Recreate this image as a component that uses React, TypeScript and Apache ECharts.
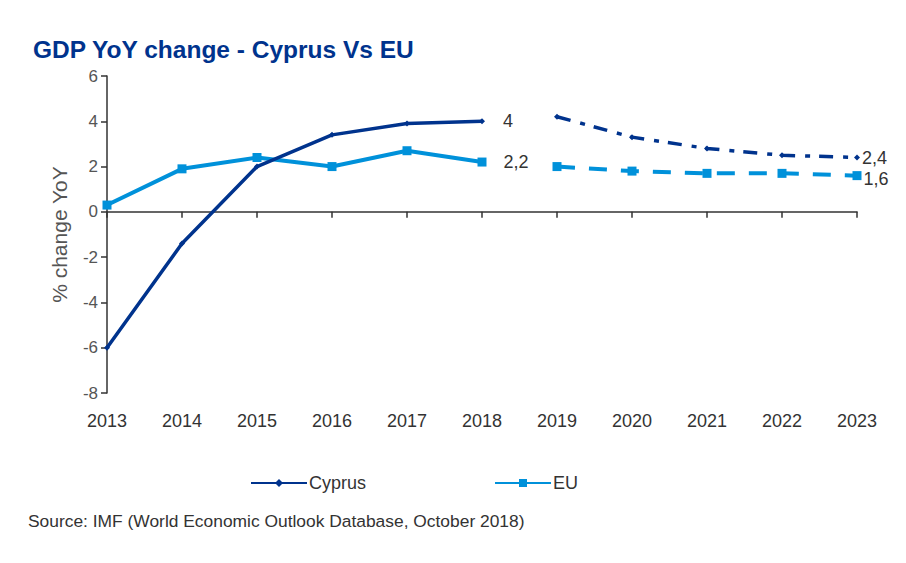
import React, { useEffect, useRef } from "react";
import * as echarts from "echarts";

const years = ["2013", "2014", "2015", "2016", "2017", "2018", "2019", "2020", "2021", "2022", "2023"];
const cyprusActual = [-6.0, -1.4, 2.0, 3.4, 3.9, 4.0, null, null, null, null, null];
const cyprusForecast = [null, null, null, null, null, null, 4.2, 3.3, 2.8, 2.5, 2.4];
const euActual = [0.3, 1.9, 2.4, 2.0, 2.7, 2.2, null, null, null, null, null];
const euForecast = [null, null, null, null, null, null, 2.0, 1.8, 1.7, 1.7, 1.6];
const yTicks = { min: -8, max: 6, interval: 2 };

const CYPRUS = "#00338D";
const EU = "#0091DA";
const FONT = "Liberation Sans, Arial, sans-serif";

const fmt = (v: number) => String(v).replace(".", ",");

function withLabel(arr: (number | null)[], idx: number, offset: number[]) {
  return arr.map((v, i) =>
    i === idx && v !== null
      ? {
          value: v,
          label: {
            show: true,
            position: "right",
            offset,
            formatter: (p: any) => fmt(p.value),
            fontFamily: FONT,
            fontSize: 18,
            color: "#333",
          },
        }
      : v
  );
}

export default function App() {
  const ref = useRef<HTMLDivElement>(null);
  useEffect(() => {
    const chart = echarts.init(ref.current!, null, { renderer: "svg" });
    chart.setOption({
      animation: false,
      backgroundColor: "#fff",
      textStyle: { fontFamily: FONT },
      title: {
        text: "GDP YoY change - Cyprus Vs EU",
        left: 20,
        top: 24,
        textStyle: { fontFamily: FONT, fontSize: 24.5, fontWeight: "bold", color: CYPRUS },
      },
      legend: {
        data: ["Cyprus", "EU"],
        left: 237,
        top: 461,
        itemWidth: 56,
        itemHeight: 10,
        itemGap: 128,
        textStyle: { fontFamily: FONT, fontSize: 18, color: "#333", padding: [0, 0, 0, -3] },
      },
      graphic: [
        {
          type: "text",
          left: 20,
          top: 504,
          style: {
            text: "Source: IMF (World Economic Outlook Database, October 2018)",
            fontFamily: FONT,
            fontSize: 17.4,
            fill: "#333",
          },
        },
      ],
      grid: { left: 99, right: 41, top: 68, bottom: 162, containLabel: false },
      xAxis: [
        {
          type: "category",
          data: years,
          boundaryGap: false,
          axisLine: { onZero: true, lineStyle: { color: "#333", width: 1.5 } },
          axisTick: { show: true, inside: false, length: 6, alignWithLabel: true, lineStyle: { color: "#333", width: 1.5 } },
          axisLabel: { show: false },
          splitLine: { show: false },
        },
        {
          type: "category",
          data: years,
          boundaryGap: false,
          position: "bottom",
          axisLine: { show: false, onZero: false },
          axisTick: { show: false },
          axisLabel: { show: true, margin: 19, fontFamily: FONT, fontSize: 18, color: "#333" },
          splitLine: { show: false },
        },
      ],
      yAxis: {
        type: "value",
        min: yTicks.min,
        max: yTicks.max,
        interval: yTicks.interval,
        name: "% change YoY",
        nameLocation: "middle",
        nameGap: 37,
        nameTextStyle: { fontFamily: FONT, fontSize: 21, color: "#555" },
        axisLine: { show: true, lineStyle: { color: "#333", width: 1.5 } },
        axisTick: { show: true, length: 6, lineStyle: { color: "#333", width: 1.5 } },
        axisLabel: { margin: 9, fontFamily: FONT, fontSize: 17, color: "#555" },
        splitLine: { show: false },
      },
      series: [
        {
          name: "Cyprus",
          type: "line",
          data: withLabel(cyprusActual, 5, [13, 0]),
          symbol: "diamond",
          symbolSize: 6,
          itemStyle: { color: CYPRUS },
          lineStyle: { color: CYPRUS, width: 3.5 },
          z: 3,
        },
        {
          name: "Cyprus forecast",
          type: "line",
          data: withLabel(cyprusForecast, 10, [-3, 0]),
          symbol: "diamond",
          symbolSize: 6,
          itemStyle: { color: CYPRUS },
          lineStyle: { color: CYPRUS, width: 3.5, type: [14, 10, 5, 9] },
          z: 3,
        },
        {
          name: "EU",
          type: "line",
          data: withLabel(euActual, 5, [12, 0]),
          symbol: "rect",
          symbolSize: 9,
          itemStyle: { color: EU },
          lineStyle: { color: EU, width: 4 },
          z: 2,
        },
        {
          name: "EU forecast",
          type: "line",
          data: withLabel(euForecast, 10, [-3, 3]),
          symbol: "rect",
          symbolSize: 9,
          itemStyle: { color: EU },
          lineStyle: { color: EU, width: 4, type: [18, 14] },
          z: 2,
        },
      ],
    });
    return () => chart.dispose();
  }, []);
  return <div ref={ref} style={{ width: 890, height: 547 }} />;
}
